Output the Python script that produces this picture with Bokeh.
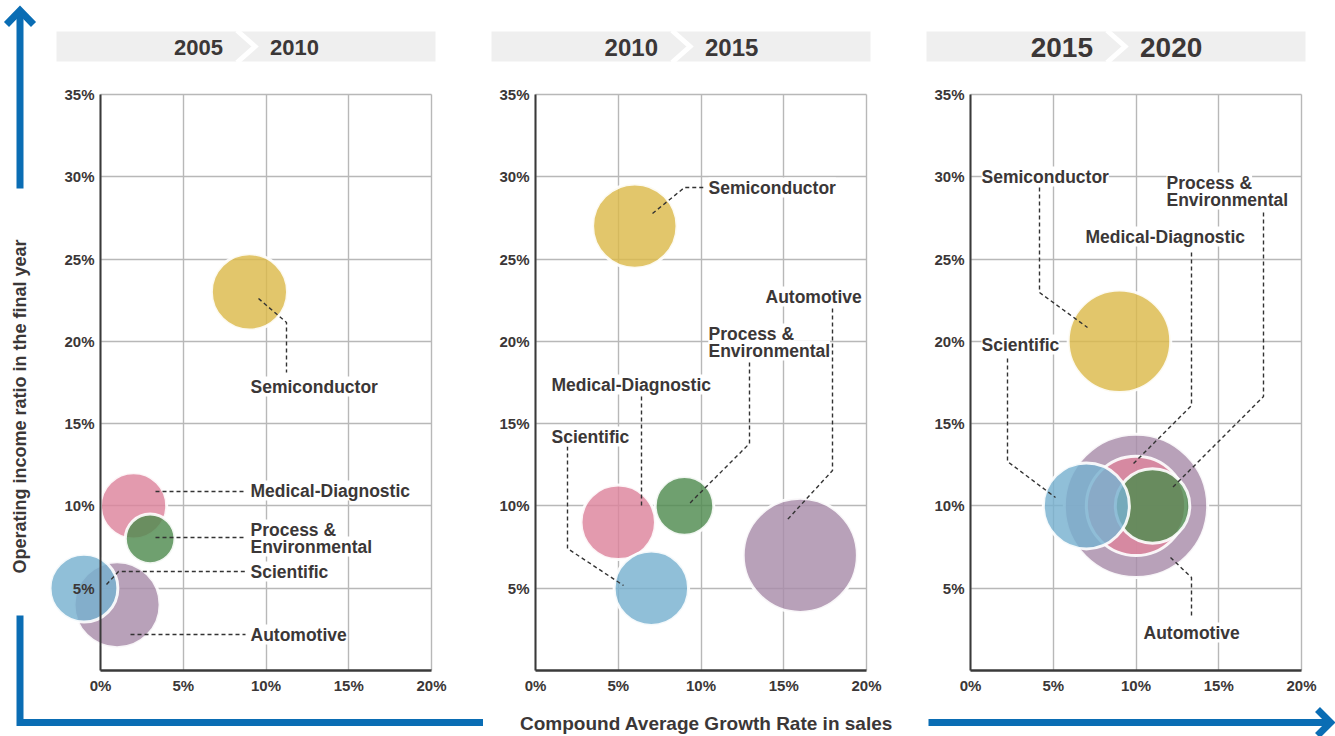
import numpy as np
from bokeh.plotting import figure
from bokeh.layouts import row
from bokeh.models import Range1d, FixedTicker, PrintfTickFormatter, Label, ColumnDataSource, Grid
from bokeh.embed import file_html
from bokeh.resources import INLINE

# ---------------- data ----------------
segments = ["Semiconductor", "Automotive", "Medical-Diagnostic", "Process & Environmental", "Scientific"]
periods = [("2005", "2010"), ("2010", "2015"), ("2015", "2020")]

# CAGR in sales (%), operating income ratio (%), bubble radius (in % units)
growth_2005_2010 = [9, 1, 2, 3, -1]
margin_2005_2010 = [23, 4, 10, 8, 5]
size_2005_2010 = [2.3, 2.6, 2.0, 1.5, 2.05]

growth_2010_2015 = [6, 16, 5, 9, 7]
margin_2010_2015 = [27, 7, 9, 10, 5]
size_2010_2015 = [2.55, 3.45, 2.25, 1.77, 2.25]

growth_2015_2020 = [9, 10, 10, 11, 7]
margin_2015_2020 = [20, 10, 10, 10, 10]
size_2015_2020 = [3.1, 4.33, 3.0, 2.25, 2.6]

x_ticks = [0, 5, 10, 15, 20]
y_ticks = [5, 10, 15, 20, 25, 30, 35]

series = [
    (growth_2005_2010, margin_2005_2010, size_2005_2010),
    (growth_2010_2015, margin_2010_2015, size_2010_2015),
    (growth_2015_2020, margin_2015_2020, size_2015_2020),
]

# ---------------- style / layout ----------------
colors = ["#dcb94a", "#a88ca9", "#dd849c", "#4f8b4f", "#77b1cf"]
TEXT = "#3b3737"
BLUE = "#0a6db4"
FONT = "Liberation Sans"

SX, SY = 16.55, 16.46          # px per percent
Y0 = 670.0                     # page y of 0 %
PAGE_TOP, PAGE_BOTTOM = 0, 736

geom = [
    dict(zero=100, left=0, width=483, head_size="22px"),
    dict(zero=535, left=483, width=435, head_size="24px"),
    dict(zero=970, left=918, width=417, head_size="28px"),
]

# labels: list of (text lines, left x px, center y px of first line), leader path in page px
annotations = [
    [
        (["Semiconductor"], 250, 386, [(258, 298), (286, 322), (286, 372)]),
        (["Medical-Diagnostic"], 250, 490, [(155, 491), (245, 491)]),
        (["Process &", "Environmental"], 250, 529, [(155, 537), (245, 537)]),
        (["Scientific"], 250, 571, [(106, 584), (118, 571), (245, 571)]),
        (["Automotive"], 250, 634, [(130, 634), (245, 634)]),
    ],
    [
        (["Semiconductor"], 708, 187, [(652, 213), (684, 187), (703, 187)]),
        (["Automotive"], 765, 296, [(832, 308), (832, 470), (787, 519)]),
        (["Process &", "Environmental"], 708, 333, [(749, 362), (749, 443), (689, 503)]),
        (["Medical-Diagnostic"], 551, 384, [(641, 396), (641, 508)]),
        (["Scientific"], 551, 436, [(567, 446), (567, 548), (623, 585)]),
    ],
    [
        (["Semiconductor"], 981, 176, [(1039, 187), (1039, 292), (1087, 327)]),
        (["Process &", "Environmental"], 1166, 182, [(1263, 212), (1263, 396), (1171, 488)]),
        (["Medical-Diagnostic"], 1085, 236, [(1191, 252), (1191, 405), (1132, 464)]),
        (["Scientific"], 981, 344, [(1007, 358), (1007, 461), (1055, 497)]),
        (["Automotive"], 1143, 632, [(1170, 557), (1191, 577), (1191, 617)]),
    ],
]

has_cross = "cross_bounds" in Grid.properties()


def make_panel(i):
    g = geom[i]
    z = g["zero"]

    def dx(px):
        return (px - z) / SX

    def dy(py):
        return (Y0 - py) / SY

    p = figure(width=g["width"], height=PAGE_BOTTOM - PAGE_TOP,
               x_range=Range1d(dx(g["left"]), dx(g["left"] + g["width"])),
               y_range=Range1d(dy(PAGE_BOTTOM), dy(PAGE_TOP)),
               output_backend="svg", toolbar_location=None, title=None,
               min_border=0)
    p.outline_line_color = None
    p.background_fill_color = "white"
    p.border_fill_color = "white"

    # axes
    for ax, ticks, bnds in ((p.xaxis[0], x_ticks, (0, 20)), (p.yaxis[0], y_ticks, (0, 35))):
        ax.fixed_location = 0
        ax.bounds = bnds
        ax.ticker = FixedTicker(ticks=ticks)
        ax.formatter = PrintfTickFormatter(format="%d%%")
        ax.major_tick_in = 0
        ax.major_tick_out = 0
        ax.minor_tick_in = 0
        ax.minor_tick_out = 0
        ax.axis_line_color = "#3a3a3a"
        ax.major_label_text_font = FONT
        ax.major_label_text_font_style = "bold"
        ax.major_label_text_font_size = "15px"
        ax.major_label_text_color = TEXT
    p.xaxis[0].axis_line_width = 2.5
    p.yaxis[0].axis_line_width = 2
    p.xaxis[0].major_label_standoff = 6
    p.yaxis[0].major_label_standoff = 6

    p.xgrid.ticker = FixedTicker(ticks=x_ticks)
    p.ygrid.ticker = FixedTicker(ticks=y_ticks)
    for gr in (p.xgrid[0], p.ygrid[0]):
        gr.grid_line_color = "#b8b8b8"
        gr.grid_line_width = 1.4
    if has_cross:
        p.xgrid[0].cross_bounds = (0, 35)
        p.ygrid[0].cross_bounds = (0, 20)

    # header bar
    hl, hr = z - 44, z + 335
    cx = (hl + hr) / 2
    p.quad(left=[dx(hl)], right=[dx(hr)], top=[dy(31)], bottom=[dy(61)],
           fill_color="#efefef", line_color=None)
    p.line([dx(cx - 9), dx(cx + 9), dx(cx - 9)], [dy(30), dy(46), dy(62)],
           line_color="white", line_width=5, line_join="miter")
    a, b = periods[i]
    p.add_layout(Label(x=dx(cx - 23), y=dy(46.5), text=a, text_align="right",
                       text_baseline="middle", text_font=FONT, text_font_style="bold",
                       text_font_size=g["head_size"], text_color=TEXT))
    p.add_layout(Label(x=dx(cx + 24), y=dy(46.5), text=b, text_align="left",
                       text_baseline="middle", text_font=FONT, text_font_style="bold",
                       text_font_size=g["head_size"], text_color=TEXT))

    # bubbles
    gx, gy, gr_ = series[i]
    src = ColumnDataSource(dict(x=gx, y=gy, r=gr_, color=colors, name=segments))
    p.circle(x="x", y="y", radius="r", source=src, fill_color="color", fill_alpha=0.82,
             line_color="white", line_width=3, line_alpha=0.9)

    # leaders + labels
    xs, ys = [], []
    for lines, lx, ly, path in annotations[i]:
        xs.append([dx(px) for px, py in path])
        ys.append([dy(py) for px, py in path])
    p.multi_line(xs, ys, line_color="#333333", line_width=1.4, line_dash="4 3")
    for lines, lx, ly, path in annotations[i]:
        for k, t in enumerate(lines):
            p.add_layout(Label(x=dx(lx), y=dy(ly + 17 * k), text=t, text_align="left",
                               text_baseline="middle", text_font=FONT, text_font_style="bold",
                               text_font_size="17.5px", text_color=TEXT,
                               background_fill_color="white"))
    return p, dx, dy


p1, dx1, dy1 = make_panel(0)
p2, dx2, dy2 = make_panel(1)
p3, dx3, dy3 = make_panel(2)

# y-axis arrow and title (panel 1)
p1.line([dx1(19.5), dx1(19.5)], [dy1(188), dy1(12)], line_color=BLUE, line_width=7)
p1.line([dx1(6), dx1(19.5), dx1(33)], [dy1(24), dy1(10), dy1(24)], line_color=BLUE,
        line_width=7, line_join="miter")
p1.line([dx1(19.5), dx1(19.5), dx1(484)], [dy1(615), dy1(722), dy1(722)], line_color=BLUE,
        line_width=7, line_join="miter")
p1.add_layout(Label(x=dx1(19.5), y=dy1(406), text="Operating income ratio in the final year",
                    angle=np.pi / 2, text_align="center", text_baseline="middle",
                    text_font=FONT, text_font_style="bold", text_font_size="18px",
                    text_color=TEXT))

# x-axis title (panel 2)
p2.add_layout(Label(x=dx2(706), y=dy2(723), text="Compound Average Growth Rate in sales",
                    text_align="center", text_baseline="middle", text_font=FONT,
                    text_font_style="bold", text_font_size="19px", text_color=TEXT))

# x arrow (panel 3)
p3.line([dx3(928), dx3(1327)], [dy3(722), dy3(722)], line_color=BLUE, line_width=7)
p3.line([dx3(1317), dx3(1330), dx3(1317)], [dy3(709), dy3(722), dy3(735)], line_color=BLUE,
        line_width=7, line_join="miter")

layout = row(p1, p2, p3)
open("out.html", "w").write(file_html(layout, INLINE))
